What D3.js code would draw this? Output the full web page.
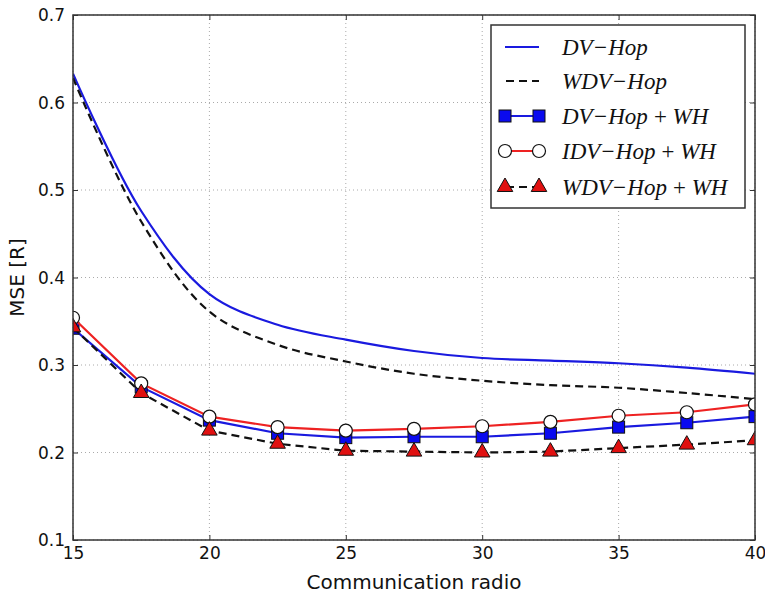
<!DOCTYPE html>
<html>
<head>
<meta charset="utf-8">
<script src="https://cdn.jsdelivr.net/npm/d3@7"></script>
<style>
  html, body { margin: 0; padding: 0; background: #fff; }
  svg { display: block; }
</style>
</head>
<body>
<svg id="chart" width="765" height="600"></svg>
<script>
// ---- Data ----
const radios = [15, 17.5, 20, 22.5, 25, 27.5, 30, 32.5, 35, 37.5, 40];
const dvHop = [0.633, 0.476, 0.381, 0.346, 0.329, 0.316, 0.308, 0.305, 0.302, 0.297, 0.290];
const wdvHop = [0.628, 0.464, 0.361, 0.323, 0.304, 0.290, 0.282, 0.277, 0.274, 0.268, 0.261];
const dvHopWH = [0.342, 0.275, 0.237, 0.222, 0.217, 0.218, 0.218, 0.222, 0.229, 0.234, 0.241];
const idvHopWH = [0.354, 0.279, 0.241, 0.229, 0.225, 0.227, 0.230, 0.235, 0.242, 0.246, 0.255];
const wdvHopWH = [0.343, 0.268, 0.225, 0.210, 0.202, 0.201, 0.200, 0.201, 0.205, 0.209, 0.214];
const xTicks = [15, 20, 25, 30, 35, 40];
const yTicks = [0.1, 0.2, 0.3, 0.4, 0.5, 0.6, 0.7];
const legendLabels = ["DV\u2212Hop", "WDV\u2212Hop", "DV\u2212Hop\u2009+\u2009WH", "IDV\u2212Hop\u2009+\u2009WH", "WDV\u2212Hop\u2009+\u2009WH"];

// ---- Layout ----
const L = 73, R = 755, T = 15, B = 540;
const svg = d3.select("#chart");
const x = d3.scaleLinear().domain([15, 40]).range([L, R]);
const y = d3.scaleLinear().domain([0.1, 0.7]).range([B, T]);

svg.append("defs").append("clipPath").attr("id", "plotclip")
  .append("rect").attr("x", L).attr("y", T).attr("width", R - L).attr("height", B - T);

// grid
const grid = svg.append("g");
xTicks.forEach(t => {
  grid.append("line").attr("x1", x(t)).attr("x2", x(t)).attr("y1", T).attr("y2", B)
    .attr("stroke", "#aaa").attr("stroke-width", 1).attr("stroke-dasharray", "1,3");
});
yTicks.forEach(t => {
  grid.append("line").attr("x1", L).attr("x2", R).attr("y1", y(t)).attr("y2", y(t))
    .attr("stroke", "#aaa").attr("stroke-width", 1).attr("stroke-dasharray", "1,3");
});

// axes using d3 axes (ticks inward)
const tickFont = "DejaVu Sans, sans-serif";
const xAxis = svg.append("g").attr("transform", `translate(0,${B})`)
  .call(d3.axisBottom(x).tickValues(xTicks).tickSize(-5).tickPadding(7).tickFormat(d3.format("d")));
const yAxis = svg.append("g").attr("transform", `translate(${L},0)`)
  .call(d3.axisLeft(y).tickValues(yTicks).tickSize(-5).tickPadding(8).tickFormat(d3.format(".1f")));
const xAxisTop = svg.append("g").attr("transform", `translate(0,${T})`)
  .call(d3.axisTop(x).tickValues(xTicks).tickSize(-5).tickFormat(""));
const yAxisRight = svg.append("g").attr("transform", `translate(${R},0)`)
  .call(d3.axisRight(y).tickValues(yTicks).tickSize(-5).tickFormat(""));
[xAxis, yAxis, xAxisTop, yAxisRight].forEach(g => {
  g.select(".domain").remove();
  g.selectAll(".tick line").attr("stroke", "#333").attr("stroke-width", 1);
  g.selectAll("text").attr("font-family", tickFont).attr("font-size", 17).attr("fill", "#111");
});
yAxis.selectAll("text").attr("dy", "0.35em");
xAxis.selectAll("text").attr("dy", "0.71em");

// data lines
const plot = svg.append("g").attr("clip-path", "url(#plotclip)");
const smooth = d3.line().x((d, i) => x(radios[i])).y(d => y(d)).curve(d3.curveCatmullRom.alpha(0.5));
const straight = d3.line().x((d, i) => x(radios[i])).y(d => y(d));

plot.append("path").attr("d", smooth(dvHop)).attr("fill", "none")
  .attr("stroke", "#1a1adf").attr("stroke-width", 2.2);
plot.append("path").attr("d", smooth(wdvHop)).attr("fill", "none")
  .attr("stroke", "#111").attr("stroke-width", 2.2).attr("stroke-dasharray", "8,5");

// DV-Hop + WH
plot.append("path").attr("d", straight(dvHopWH)).attr("fill", "none")
  .attr("stroke", "#1a1adf").attr("stroke-width", 2.2);
plot.selectAll(".sq").data(dvHopWH).enter().append("rect")
  .attr("x", (d, i) => x(radios[i]) - 6).attr("y", d => y(d) - 6)
  .attr("width", 12).attr("height", 12)
  .attr("fill", "#0a0aef").attr("stroke", "#111").attr("stroke-width", 1);

// IDV-Hop + WH
plot.append("path").attr("d", straight(idvHopWH)).attr("fill", "none")
  .attr("stroke", "#ee2222").attr("stroke-width", 2.2);
plot.selectAll(".ci").data(idvHopWH).enter().append("circle")
  .attr("cx", (d, i) => x(radios[i])).attr("cy", d => y(d)).attr("r", 6.5)
  .attr("fill", "#fff").attr("stroke", "#111").attr("stroke-width", 1.2);

// WDV-Hop + WH
plot.append("path").attr("d", straight(wdvHopWH)).attr("fill", "none")
  .attr("stroke", "#111").attr("stroke-width", 2.2).attr("stroke-dasharray", "8,5");
const tri = d3.symbol().type(d3.symbolTriangle).size(105);
plot.selectAll(".tr").data(wdvHopWH).enter().append("path")
  .attr("d", tri)
  .attr("transform", (d, i) => `translate(${x(radios[i])},${y(d)})`)
  .attr("fill", "#e01010").attr("stroke", "#111").attr("stroke-width", 1);

// frame
svg.append("rect").attr("x", L).attr("y", T).attr("width", R - L).attr("height", B - T)
  .attr("fill", "none").attr("stroke", "#333").attr("stroke-width", 1.5);

// axis labels
svg.append("text").attr("x", (L + R) / 2).attr("y", 589).attr("text-anchor", "middle")
  .attr("font-family", tickFont).attr("font-size", 20).attr("fill", "#111")
  .text("Communication radio");
svg.append("text").attr("transform", `translate(24,${(T + B) / 2}) rotate(-90)`)
  .attr("text-anchor", "middle").attr("font-family", tickFont).attr("font-size", 20).attr("fill", "#111")
  .text("MSE [R]");

// legend
const lg = svg.append("g");
lg.append("rect").attr("x", 491).attr("y", 25).attr("width", 254).attr("height", 183)
  .attr("fill", "#fff").attr("stroke", "#333").attr("stroke-width", 1.5);
const rowY = [47, 81, 116, 151, 187];
const x0 = 505, x1 = 539, tx = 562;
// row 0
lg.append("line").attr("x1", x0).attr("x2", x1).attr("y1", rowY[0]).attr("y2", rowY[0])
  .attr("stroke", "#1a1adf").attr("stroke-width", 2.2);
// row 1
lg.append("line").attr("x1", x0).attr("x2", x1).attr("y1", rowY[1]).attr("y2", rowY[1])
  .attr("stroke", "#111").attr("stroke-width", 2.2).attr("stroke-dasharray", "8,5").attr("stroke-dashoffset", -1);
// row 2
lg.append("line").attr("x1", x0).attr("x2", x1).attr("y1", rowY[2]).attr("y2", rowY[2])
  .attr("stroke", "#1a1adf").attr("stroke-width", 2.2);
[x0, x1].forEach(px => lg.append("rect").attr("x", px - 6).attr("y", rowY[2] - 6)
  .attr("width", 12).attr("height", 12).attr("fill", "#0a0aef").attr("stroke", "#111").attr("stroke-width", 1));
// row 3
lg.append("line").attr("x1", x0).attr("x2", x1).attr("y1", rowY[3]).attr("y2", rowY[3])
  .attr("stroke", "#ee2222").attr("stroke-width", 2.2);
[x0, x1].forEach(px => lg.append("circle").attr("cx", px).attr("cy", rowY[3]).attr("r", 6.5)
  .attr("fill", "#fff").attr("stroke", "#111").attr("stroke-width", 1.2));
// row 4
lg.append("line").attr("x1", x0).attr("x2", x1).attr("y1", rowY[4]).attr("y2", rowY[4])
  .attr("stroke", "#111").attr("stroke-width", 2.2).attr("stroke-dasharray", "8,5").attr("stroke-dashoffset", -1);
[x0, x1].forEach(px => lg.append("path").attr("d", tri)
  .attr("transform", `translate(${px},${rowY[4]})`)
  .attr("fill", "#e01010").attr("stroke", "#111").attr("stroke-width", 1));

legendLabels.forEach((t, i) => {
  lg.append("text").attr("x", tx).attr("y", rowY[i]).attr("dy", "0.35em")
    .attr("font-family", "Liberation Serif, Times New Roman, serif").attr("font-style", "italic")
    .attr("font-size", 23).attr("fill", "#111").text(t);
});
</script>
</body>
</html>
